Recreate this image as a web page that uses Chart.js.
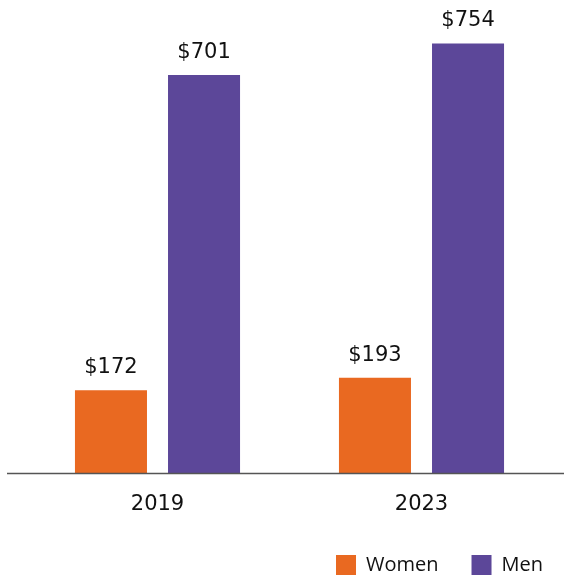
<!DOCTYPE html>
<html>
<head>
<meta charset="utf-8">
<script src="https://cdn.jsdelivr.net/npm/chart.js@4"></script>
<style>
  html, body { margin: 0; padding: 0; background: #fff; }
  #wrap { width: 564px; height: 577px; position: relative; }
</style>
</head>
<body>
<div id="wrap"><canvas id="c"></canvas></div>
<script>
const years = ['2019', '2023'];
const women = [172, 193];
const men = [701, 754];
const seriesNames = ['Women', 'Men'];

// value labels above bars
const valueLabels = {
  id: 'valueLabels',
  afterDatasetsDraw(chart) {
    const { ctx } = chart;
    ctx.save();
    ctx.font = '21px "DejaVu Sans"';
    ctx.fillStyle = '#111';
    ctx.textAlign = 'center';
    ctx.textBaseline = 'alphabetic';
    chart.data.datasets.forEach((ds, i) => {
      chart.getDatasetMeta(i).data.forEach((bar, j) => {
        ctx.fillText('$' + ds.data[j], bar.x, bar.y - 17);
      });
    });
    ctx.restore();
  }
};

// baseline across the full width
const baseLine = {
  id: 'baseLine',
  afterDatasetsDraw(chart) {
    const { ctx, chartArea } = chart;
    ctx.save();
    ctx.strokeStyle = '#555';
    ctx.lineWidth = 1.5;
    ctx.beginPath();
    ctx.moveTo(7, chartArea.bottom + 0.5);
    ctx.lineTo(chart.width, chartArea.bottom + 0.5);
    ctx.stroke();
    ctx.restore();
  }
};

new Chart(document.getElementById('c'), {
  type: 'bar',
  data: {
    labels: years,
    datasets: [
      { label: seriesNames[0], data: women, backgroundColor: '#E96921' },
      { label: seriesNames[1], data: men, backgroundColor: '#5C4799' }
    ]
  },
  options: {
    responsive: true,
    maintainAspectRatio: false,
    animation: false,
    categoryPercentage: 0.705,
    barPercentage: 0.774,
    layout: { padding: { left: 25.5, right: -12, top: 16, bottom: -8 } },
    plugins: {
      legend: {
        position: 'bottom',
        align: 'end',
        labels: {
          boxWidth: 20,
          boxHeight: 20,
          padding: 33,
          color: '#111',
          font: { family: '"Open Sans"', size: 20 }
        }
      },
      tooltip: { enabled: false }
    },
    scales: {
      x: {
        grid: { display: false },
        border: { display: false },
        ticks: { color: '#111', padding: 11, font: { family: '"DejaVu Sans"', size: 21 } },
        afterFit: (s) => { s.height = 49; }
      },
      y: {
        display: false,
        min: 33,
        max: 800
      },
      yr: {
        position: 'right',
        grid: { display: false },
        border: { display: false },
        ticks: { display: false },
        afterFit: (s) => { s.width = 22.5; }
      }
    }
  },
  plugins: [valueLabels, baseLine]
});
</script>
</body>
</html>
